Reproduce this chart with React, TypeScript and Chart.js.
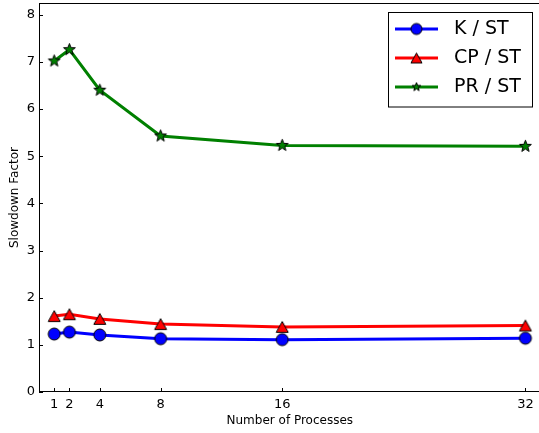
import React, { useEffect, useRef } from "react";
import { Chart, registerables } from "chart.js";

Chart.register(...registerables);

const processes = [1, 2, 4, 8, 16, 32];
const kST = [1.23, 1.27, 1.21, 1.13, 1.11, 1.14];
const cpST = [1.61, 1.65, 1.55, 1.44, 1.38, 1.41];
const prST = [7.02, 7.26, 6.4, 5.43, 5.23, 5.21];
const xTicks = [1, 2, 4, 8, 16, 32];
const yTicks = [0, 1, 2, 3, 4, 5, 6, 7, 8];
const seriesLabels = ["K / ST", "CP / ST", "PR / ST"];

const FONT = "'DejaVu Sans', sans-serif";

function makeStar(outer: number, fill: string): HTMLCanvasElement {
  const size = Math.ceil(outer * 2 + 4);
  const c = document.createElement("canvas");
  c.width = size;
  c.height = size;
  const ctx = c.getContext("2d")!;
  const cx = size / 2;
  const cy = size / 2;
  const inner = outer * 0.42;
  ctx.beginPath();
  for (let i = 0; i < 10; i++) {
    const r = i % 2 === 0 ? outer : inner;
    const a = -Math.PI / 2 + (i * Math.PI) / 5;
    const x = cx + r * Math.cos(a);
    const y = cy + r * Math.sin(a);
    if (i === 0) ctx.moveTo(x, y);
    else ctx.lineTo(x, y);
  }
  ctx.closePath();
  ctx.fillStyle = fill;
  ctx.fill();
  ctx.lineWidth = 1;
  ctx.strokeStyle = "#000";
  ctx.stroke();
  return c;
}

function makeTriangle(half: number, fill: string): HTMLCanvasElement {
  const size = Math.ceil(half * 2 + 4);
  const c = document.createElement("canvas");
  c.width = size;
  c.height = size;
  const ctx = c.getContext("2d")!;
  const cx = size / 2;
  const cy = size / 2;
  const h = half * 0.9;
  ctx.beginPath();
  ctx.moveTo(cx, cy - h);
  ctx.lineTo(cx - half, cy + h);
  ctx.lineTo(cx + half, cy + h);
  ctx.closePath();
  ctx.fillStyle = fill;
  ctx.fill();
  ctx.lineWidth = 1;
  ctx.strokeStyle = "#000";
  ctx.stroke();
  return c;
}

function makeCircle(r: number, fill: string): HTMLCanvasElement {
  const size = Math.ceil(r * 2 + 4);
  const c = document.createElement("canvas");
  c.width = size;
  c.height = size;
  const ctx = c.getContext("2d")!;
  ctx.beginPath();
  ctx.arc(size / 2, size / 2, r, 0, Math.PI * 2);
  ctx.fillStyle = fill;
  ctx.fill();
  ctx.lineWidth = 1;
  ctx.strokeStyle = "#000";
  ctx.stroke();
  return c;
}

export default function App() {
  const ref = useRef<HTMLCanvasElement | null>(null);

  useEffect(() => {
    document.body.style.overflow = "hidden";
    const colors = ["#0000ff", "#ff0000", "#008000"];
    const markers = [
      makeCircle(6, colors[0]),
      makeTriangle(6, colors[1]),
      makeStar(6.2, colors[2]),
    ];
    const legendMarkers = [
      makeCircle(5.5, colors[0]),
      makeTriangle(5.5, colors[1]),
      makeStar(4.5, colors[2]),
    ];
    const series = [kST, cpST, prST];

    const framePlugin = {
      id: "frame",
      afterDatasetsDraw(chart: any) {
        const { ctx, chartArea, scales } = chart;
        const { left, right, top, bottom } = chartArea;
        ctx.save();
        ctx.strokeStyle = "#000";
        ctx.lineWidth = 1;
        ctx.strokeRect(left + 0.5, top + 0.5, right - left - 1, bottom - top - 1);
        // inward ticks
        ctx.beginPath();
        for (const v of xTicks) {
          const x = Math.round(scales.x.getPixelForValue(v)) + 0.5;
          ctx.moveTo(x, bottom);
          ctx.lineTo(x, bottom - 4);
        }
        for (const v of yTicks) {
          const y = Math.round(scales.y.getPixelForValue(v)) + 0.5;
          ctx.moveTo(left, y);
          ctx.lineTo(left + 4, y);
        }
        ctx.stroke();

        // legend
        const lx0 = 388.5, ly0 = 12.5, lw = 144, lh = 94.5;
        ctx.fillStyle = "#fff";
        ctx.fillRect(lx0, ly0, lw, lh);
        ctx.strokeRect(lx0, ly0, lw, lh);
        const rows = [29, 58, 87];
        for (let i = 0; i < 3; i++) {
          const y = rows[i];
          ctx.beginPath();
          ctx.strokeStyle = colors[i];
          ctx.lineWidth = 3;
          ctx.moveTo(395, y);
          ctx.lineTo(438, y);
          ctx.stroke();
          const m = legendMarkers[i];
          ctx.drawImage(m, 416.5 - m.width / 2, y - m.height / 2);
          ctx.fillStyle = "#000";
          ctx.font = `19px ${FONT}`;
          ctx.textBaseline = "middle";
          ctx.textAlign = "left";
          ctx.fillText(seriesLabels[i], 454, y);
        }
        ctx.restore();
      },
    };

    const chart = new Chart(ref.current!, {
      type: "line",
      data: {
        datasets: series.map((vals, i) => ({
          label: seriesLabels[i],
          data: processes.map((p, j) => ({ x: p, y: vals[j] })),
          borderColor: colors[i],
          backgroundColor: colors[i],
          borderWidth: 3,
          pointStyle: markers[i] as any,
          pointRadius: 6,
          tension: 0,
          fill: false,
        })),
      },
      options: {
        animation: false,
        responsive: true,
        maintainAspectRatio: false,
        layout: { autoPadding: false, padding: { top: 3, left: 0, right: 4.4, bottom: 0 } },
        plugins: {
          legend: { display: false },
          tooltip: { enabled: false },
        },
        scales: {
          x: {
            type: "linear",
            min: 0,
            max: 33,
            grid: { display: false, drawTicks: false },
            border: { display: false },
            afterBuildTicks: (s: any) => {
              s.ticks = xTicks.map((v) => ({ value: v }));
            },
            afterFit: (s: any) => {
              s.height = 41;
              s.paddingLeft = 0;
              s.paddingRight = 0;
            },
            ticks: {
              autoSkip: false,
              maxRotation: 0,
              padding: 5,
              color: "#000",
              font: { family: FONT, size: 13 },
            },
            title: {
              display: true,
              text: "Number of Processes",
              color: "#000",
              font: { family: FONT, size: 12 },
              padding: { top: 0, bottom: 4.5 },
            },
          },
          y: {
            type: "linear",
            min: 0,
            max: 8.25,
            grid: { display: false, drawTicks: false },
            border: { display: false },
            afterBuildTicks: (s: any) => {
              s.ticks = yTicks.map((v) => ({ value: v }));
            },
            afterFit: (s: any) => {
              s.width = 39;
              s.paddingTop = 0;
              s.paddingBottom = 0;
            },
            ticks: {
              autoSkip: false,
              padding: 4,
              color: "#000",
              font: { family: FONT, size: 13 },
            },
            title: {
              display: true,
              text: "Slowdown Factor",
              color: "#000",
              font: { family: FONT, size: 12 },
              padding: { top: 8, bottom: 0 },
            },
          },
        },
      },
      plugins: [framePlugin],
    });
    return () => chart.destroy();
  }, []);

  return (
    <div style={{ position: "fixed", left: 0, top: 0, width: 545, height: 433, background: "#fff" }}>
      <canvas ref={ref} />
    </div>
  );
}
